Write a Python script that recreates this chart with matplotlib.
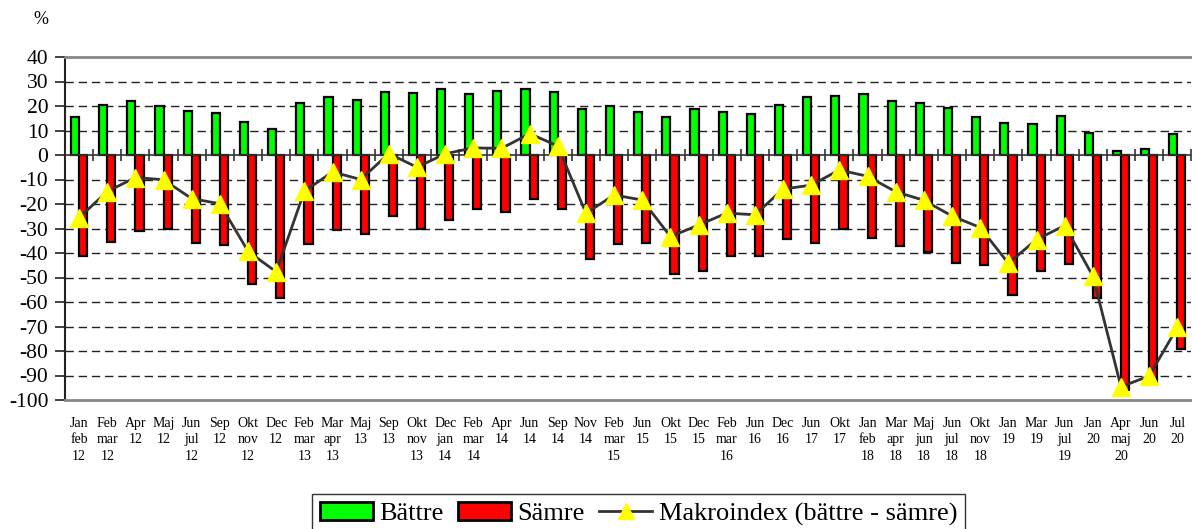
import numpy as np
import matplotlib
matplotlib.use("Agg")
import matplotlib.pyplot as plt
from matplotlib.patches import Patch
from matplotlib.lines import Line2D

plt.rcParams['font.family'] = ['Liberation Serif', 'DejaVu Serif']
plt.rcParams['axes.unicode_minus'] = False

# survey periods (three line labels as printed under the axis)
periods = [
    "Jan\nfeb\n12", "Feb\nmar\n12", "Apr\n12", "Maj\n12", "Jun\njul\n12",
    "Sep\n12", "Okt\nnov\n12", "Dec\n12", "Feb\nmar\n13", "Mar\napr\n13",
    "Maj\n13", "Sep\n13", "Okt\nnov\n13", "Dec\njan\n14", "Feb\nmar\n14",
    "Apr\n14", "Jun\n14", "Sep\n14", "Nov\n14", "Feb\nmar\n15",
    "Jun\n15", "Okt\n15", "Dec\n15", "Feb\nmar\n16", "Jun\n16",
    "Dec\n16", "Jun\n17", "Okt\n17", "Jan\nfeb\n18", "Mar\napr\n18",
    "Maj\njun\n18", "Jun\njul\n18", "Okt\nnov\n18", "Jan\n19", "Mar\n19",
    "Jun\njul\n19", "Jan\n20", "Apr\nmaj\n20", "Jun\n20", "Jul\n20",
]

battre = [15.5, 20.6, 21.9, 20.0, 18.1, 17.0, 13.5, 10.5, 21.4, 23.7,
          22.3, 25.6, 25.2, 26.9, 24.8, 26.1, 26.8, 25.7, 18.6, 19.9,
          17.7, 15.4, 18.6, 17.7, 16.7, 20.5, 23.8, 24.1, 25.0, 22.2,
          21.2, 19.0, 15.4, 12.9, 12.8, 15.8, 8.8, 1.5, 2.6, 8.6]

samre = [-41.1, -35.5, -31.1, -30.1, -35.9, -36.9, -52.8, -58.2, -36.2, -30.6,
         -32.3, -25.0, -30.2, -26.4, -21.9, -23.4, -18.1, -22.0, -42.4, -36.2,
         -36.1, -48.7, -47.2, -41.4, -41.1, -34.4, -36.1, -30.2, -33.7, -37.1,
         -39.7, -43.9, -45.0, -57.1, -47.3, -44.6, -58.2, -96.1, -92.8, -79.0]

makro = [-25.6, -14.9, -9.2, -10.1, -17.8, -19.9, -39.3, -47.7, -14.8, -6.9,
         -10.0, 0.6, -5.0, 0.5, 2.9, 2.7, 8.7, 3.7, -23.8, -16.3,
         -18.4, -33.3, -28.6, -23.7, -24.4, -13.9, -12.3, -6.1, -8.7, -15.0,
         -18.5, -24.9, -29.6, -44.2, -34.5, -28.8, -49.4, -94.6, -90.2, -70.4]


def main():
    fig = plt.figure(figsize=(11.92, 5.29), dpi=100)
    ax = fig.add_axes([65 / 1192, 1 - 400 / 529, 1 - 65 / 1192 - 0.0005, (400 - 57) / 529])

    x = np.arange(len(periods))
    w = 0.29
    ax.bar(x - w / 2, battre, w, color='#00ff00', edgecolor='black', linewidth=1.6, zorder=3)
    ax.bar(x + w / 2, samre, w, color='#ff0000', edgecolor='black', linewidth=1.6, zorder=3)
    ax.plot(x, makro, color='#333333', linewidth=2, marker='^', markersize=12.5,
            markerfacecolor='#ffff00', markeredgecolor='#ffff00', zorder=5)

    # dashed grid, solid zero line with category ticks
    for v in range(-90, 40, 10):
        if v != 0:
            ax.axhline(v, color='#222222', linewidth=1, linestyle=(0, (6, 3.5)), zorder=1)
    ax.axhline(0, color='#333333', linewidth=1.2, zorder=4)
    bounds = np.arange(len(periods) + 1) - 0.5
    ax.plot(bounds, np.zeros(len(bounds)), linestyle='none', marker='|',
            markersize=8, markeredgewidth=1.2, color='#333333', zorder=4)

    ax.set_xlim(-0.5, len(periods) - 0.5)
    ax.set_ylim(-100, 40)
    ax.set_yticks(range(-100, 41, 10))
    ax.tick_params(axis='y', labelsize=15.5, length=7, width=1.2, color='#222222', pad=5)
    ax.set_xticks(x)
    ax.set_xticklabels(periods, fontsize=10, linespacing=1.35)
    ax.tick_params(axis='x', length=0, pad=12)

    ax.spines['left'].set_color('#222222')
    ax.spines['left'].set_linewidth(1.5)
    ax.spines['top'].set_color('#888888')
    ax.spines['top'].set_linewidth(2)
    ax.spines['bottom'].set_color('#888888')
    ax.spines['bottom'].set_linewidth(2)
    ax.spines['right'].set_visible(False)

    fig.text(41 / 1192, 1 - 20 / 529, '%', fontsize=13, ha='center', va='center')

    handles = [
        Patch(facecolor='#00ff00', edgecolor='black', linewidth=2),
        Patch(facecolor='#ff0000', edgecolor='black', linewidth=2),
        Line2D([], [], color='#333333', linewidth=2, marker='^', markersize=12,
               markerfacecolor='#ffff00', markeredgecolor='#ffff00'),
    ]
    leg = fig.legend(handles, ['Bättre', 'Sämre', 'Makroindex (bättre - sämre)'],
                     loc='upper left', bbox_to_anchor=(312 / 1192, 1 - 494 / 529),
                     ncol=3, fontsize=19, frameon=True, fancybox=False,
                     handlelength=2.0, handleheight=0.7, handletextpad=0.25,
                     columnspacing=0.55, borderpad=0.3, borderaxespad=0)
    leg.get_frame().set_edgecolor('black')
    leg.get_frame().set_linewidth(1)

    fig.savefig('out.png', dpi=100)


if __name__ == "__main__":
    main()
